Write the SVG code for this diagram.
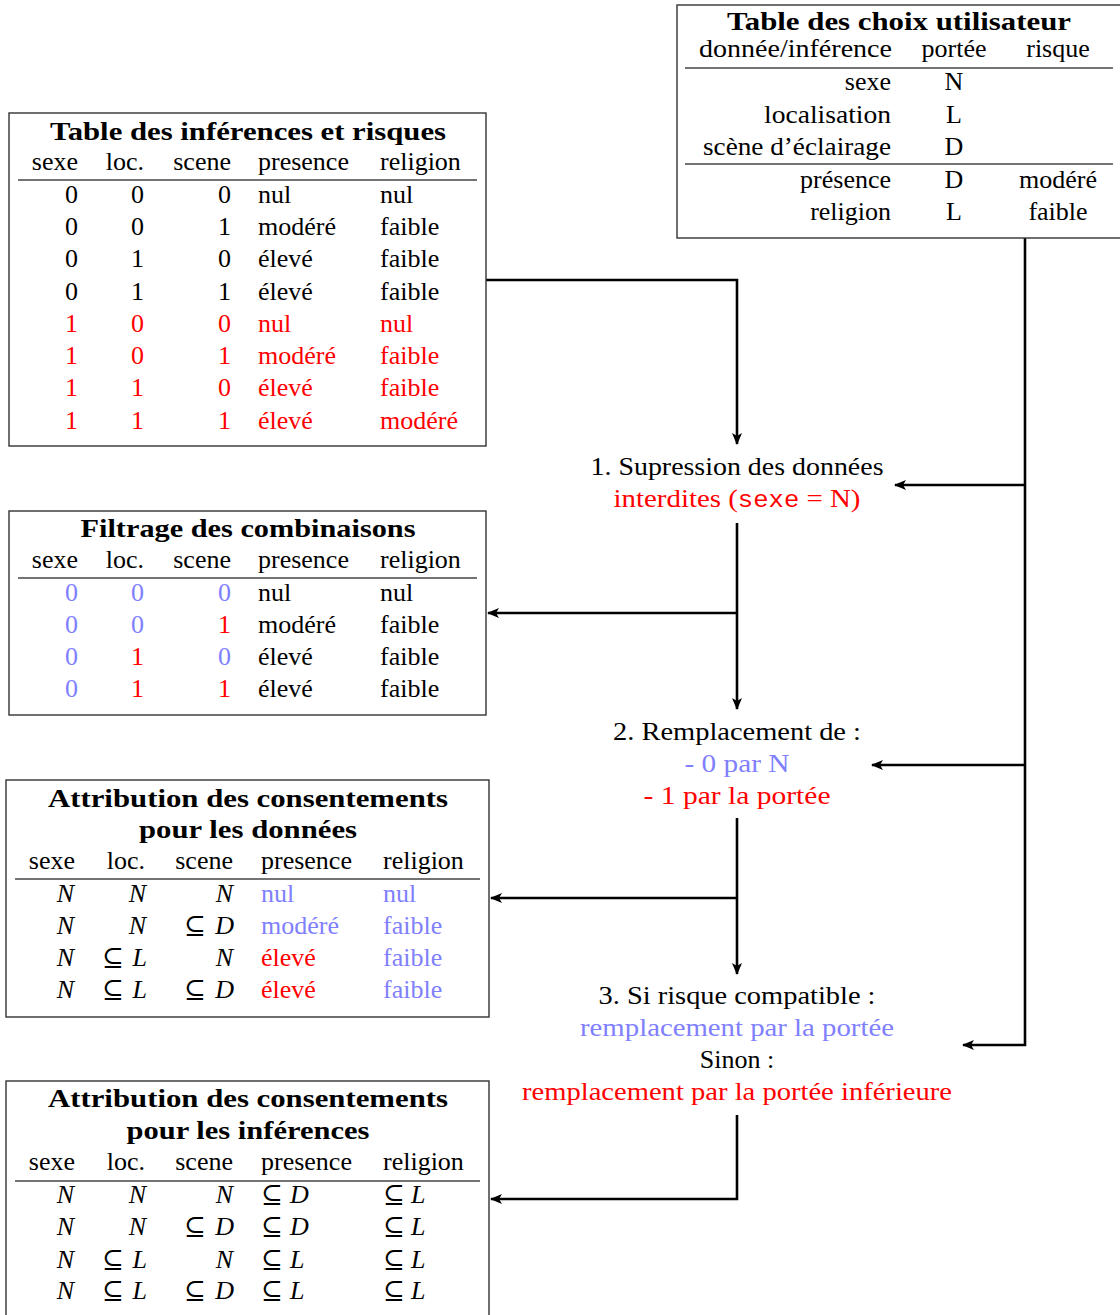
<svg xmlns="http://www.w3.org/2000/svg" width="1120" height="1315" viewBox="0 0 1120 1315">
<defs>
<style>
text{font-family:"Liberation Serif","DejaVu Serif",serif;font-size:26px;fill:#000}
.t{font-weight:bold;text-anchor:middle}
.m{text-anchor:middle}
.e{text-anchor:end}
.i{font-style:italic}
.r{fill:#ff0000}
.b{fill:#8080ff}
.tt{font-family:"Liberation Mono","DejaVu Sans Mono",monospace;font-size:23px}
.box{fill:#fff;stroke:#333;stroke-width:1.4}
.rule{stroke:#444;stroke-width:1.6}
.c{fill:none;stroke:#000;stroke-width:2.6}
</style>
<marker id="ah" viewBox="0 0 12 10" refX="11" refY="5" markerWidth="12" markerHeight="10" markerUnits="userSpaceOnUse" orient="auto">
<path d="M0,0 L12,5 L0,10 L3,5 Z" fill="#000"/>
</marker>
</defs>
<rect width="1120" height="1315" fill="#fff"/>

<g id="connectors">
<path class="c" d="M486,280 H737 V444" marker-end="url(#ah)"/>
<path class="c" d="M737,523 V709" marker-end="url(#ah)"/>
<path class="c" d="M737,613 H488" marker-end="url(#ah)"/>
<path class="c" d="M737,818 V974" marker-end="url(#ah)"/>
<path class="c" d="M737,898 H491" marker-end="url(#ah)"/>
<path class="c" d="M737,1115 V1199 H491" marker-end="url(#ah)"/>
<path class="c" d="M1025,238 V1045 H963" marker-end="url(#ah)"/>
<path class="c" d="M1025,485 H895" marker-end="url(#ah)"/>
<path class="c" d="M1025,765 H872" marker-end="url(#ah)"/>
</g>

<g id="choix">
<rect class="box" x="677" y="5" width="445" height="233"/>
<text class="t" x="899" y="30" font-size="25" textLength="344" lengthAdjust="spacingAndGlyphs">Table des choix utilisateur</text>
<text class="e" x="892" y="57" textLength="193" lengthAdjust="spacingAndGlyphs">donnée/inférence</text>
<text class="m" x="954" y="57">portée</text>
<text class="m" x="1058" y="57">risque</text>
<line class="rule" x1="685" y1="68" x2="1113" y2="68"/>
<text class="e" x="891" y="90">sexe</text><text class="m" x="954" y="90">N</text>
<text class="e" x="891" y="123" textLength="127" lengthAdjust="spacingAndGlyphs">localisation</text><text class="m" x="954" y="123">L</text>
<text class="e" x="891" y="155" textLength="188" lengthAdjust="spacingAndGlyphs">scène d’éclairage</text><text class="m" x="954" y="155">D</text>
<line class="rule" x1="685" y1="164" x2="1113" y2="164"/>
<text class="e" x="891" y="188">présence</text><text class="m" x="954" y="188">D</text><text class="m" x="1058" y="188">modéré</text>
<text class="e" x="891" y="220">religion</text><text class="m" x="954" y="220">L</text><text class="m" x="1058" y="220">faible</text>
</g>

<g id="inferences">
<rect class="box" x="9" y="113" width="477" height="333"/>
<text class="t" x="248" y="140" textLength="396" lengthAdjust="spacingAndGlyphs">Table des inférences et risques</text>
<text class="e" x="78" y="170">sexe</text><text class="e" x="144" y="170">loc.</text><text class="e" x="231" y="170">scene</text><text x="258" y="170">presence</text><text x="380" y="170">religion</text>
<line class="rule" x1="18" y1="180" x2="477" y2="180"/>
<text class="e" x="78" y="203">0</text><text class="e" x="144" y="203">0</text><text class="e" x="231" y="203">0</text><text x="258" y="203">nul</text><text x="380" y="203">nul</text>
<text class="e" x="78" y="235">0</text><text class="e" x="144" y="235">0</text><text class="e" x="231" y="235">1</text><text x="258" y="235">modéré</text><text x="380" y="235">faible</text>
<text class="e" x="78" y="267">0</text><text class="e" x="144" y="267">1</text><text class="e" x="231" y="267">0</text><text x="258" y="267">élevé</text><text x="380" y="267">faible</text>
<text class="e" x="78" y="300">0</text><text class="e" x="144" y="300">1</text><text class="e" x="231" y="300">1</text><text x="258" y="300">élevé</text><text x="380" y="300">faible</text>
<text class="e r" x="78" y="332">1</text><text class="e r" x="144" y="332">0</text><text class="e r" x="231" y="332">0</text><text class="r" x="258" y="332">nul</text><text class="r" x="380" y="332">nul</text>
<text class="e r" x="78" y="364">1</text><text class="e r" x="144" y="364">0</text><text class="e r" x="231" y="364">1</text><text class="r" x="258" y="364">modéré</text><text class="r" x="380" y="364">faible</text>
<text class="e r" x="78" y="396">1</text><text class="e r" x="144" y="396">1</text><text class="e r" x="231" y="396">0</text><text class="r" x="258" y="396">élevé</text><text class="r" x="380" y="396">faible</text>
<text class="e r" x="78" y="429">1</text><text class="e r" x="144" y="429">1</text><text class="e r" x="231" y="429">1</text><text class="r" x="258" y="429">élevé</text><text class="r" x="380" y="429">modéré</text>
</g>

<g id="filtrage">
<rect class="box" x="9" y="511" width="477" height="204"/>
<text class="t" x="248" y="537" textLength="335" lengthAdjust="spacingAndGlyphs">Filtrage des combinaisons</text>
<text class="e" x="78" y="568">sexe</text><text class="e" x="144" y="568">loc.</text><text class="e" x="231" y="568">scene</text><text x="258" y="568">presence</text><text x="380" y="568">religion</text>
<line class="rule" x1="18" y1="578" x2="477" y2="578"/>
<text class="e b" x="78" y="601">0</text><text class="e b" x="144" y="601">0</text><text class="e b" x="231" y="601">0</text><text x="258" y="601">nul</text><text x="380" y="601">nul</text>
<text class="e b" x="78" y="633">0</text><text class="e b" x="144" y="633">0</text><text class="e r" x="231" y="633">1</text><text x="258" y="633">modéré</text><text x="380" y="633">faible</text>
<text class="e b" x="78" y="665">0</text><text class="e r" x="144" y="665">1</text><text class="e b" x="231" y="665">0</text><text x="258" y="665">élevé</text><text x="380" y="665">faible</text>
<text class="e b" x="78" y="697">0</text><text class="e r" x="144" y="697">1</text><text class="e r" x="231" y="697">1</text><text x="258" y="697">élevé</text><text x="380" y="697">faible</text>
</g>

<g id="consent-donnees">
<rect class="box" x="6" y="780" width="483" height="237"/>
<text class="t" x="248" y="807" textLength="400" lengthAdjust="spacingAndGlyphs">Attribution des consentements</text>
<text class="t" x="248" y="838" textLength="218" lengthAdjust="spacingAndGlyphs">pour les données</text>
<text class="e" x="75" y="869">sexe</text><text class="e" x="145" y="869">loc.</text><text class="e" x="233" y="869">scene</text><text x="261" y="869">presence</text><text x="383" y="869">religion</text>
<line class="rule" x1="15" y1="879" x2="480" y2="879"/>
<text class="e i" x="74" y="902">N</text><text class="e i" x="146" y="902">N</text><text class="e i" x="233" y="902">N</text><text class="b" x="261" y="902">nul</text><text class="b" x="383" y="902">nul</text>
<text class="e i" x="74" y="934">N</text><text class="e i" x="146" y="934">N</text><text x="184" y="934">⊆</text><text class="e i" x="234" y="934">D</text><text class="b" x="261" y="934">modéré</text><text class="b" x="383" y="934">faible</text>
<text class="e i" x="74" y="966">N</text><text x="102" y="966">⊆</text><text class="e i" x="147" y="966">L</text><text class="e i" x="233" y="966">N</text><text class="r" x="261" y="966">élevé</text><text class="b" x="383" y="966">faible</text>
<text class="e i" x="74" y="998">N</text><text x="102" y="998">⊆</text><text class="e i" x="147" y="998">L</text><text x="184" y="998">⊆</text><text class="e i" x="234" y="998">D</text><text class="r" x="261" y="998">élevé</text><text class="b" x="383" y="998">faible</text>
</g>

<g id="consent-inferences">
<rect class="box" x="6" y="1081" width="483" height="240"/>
<text class="t" x="248" y="1107" textLength="400" lengthAdjust="spacingAndGlyphs">Attribution des consentements</text>
<text class="t" x="248" y="1139" textLength="243" lengthAdjust="spacingAndGlyphs">pour les inférences</text>
<text class="e" x="75" y="1170">sexe</text><text class="e" x="145" y="1170">loc.</text><text class="e" x="233" y="1170">scene</text><text x="261" y="1170">presence</text><text x="383" y="1170">religion</text>
<line class="rule" x1="15" y1="1181" x2="480" y2="1181"/>
<text class="e i" x="74" y="1203">N</text><text class="e i" x="146" y="1203">N</text><text class="e i" x="233" y="1203">N</text><text x="261" y="1203">⊆</text><text class="i" x="290" y="1203">D</text><text x="383" y="1203">⊆</text><text class="i" x="411" y="1203">L</text>
<text class="e i" x="74" y="1235">N</text><text class="e i" x="146" y="1235">N</text><text x="184" y="1235">⊆</text><text class="e i" x="234" y="1235">D</text><text x="261" y="1235">⊆</text><text class="i" x="290" y="1235">D</text><text x="383" y="1235">⊆</text><text class="i" x="411" y="1235">L</text>
<text class="e i" x="74" y="1268">N</text><text x="102" y="1268">⊆</text><text class="e i" x="147" y="1268">L</text><text class="e i" x="233" y="1268">N</text><text x="261" y="1268">⊆</text><text class="i" x="290" y="1268">L</text><text x="383" y="1268">⊆</text><text class="i" x="411" y="1268">L</text>
<text class="e i" x="74" y="1299">N</text><text x="102" y="1299">⊆</text><text class="e i" x="147" y="1299">L</text><text x="184" y="1299">⊆</text><text class="e i" x="234" y="1299">D</text><text x="261" y="1299">⊆</text><text class="i" x="290" y="1299">L</text><text x="383" y="1299">⊆</text><text class="i" x="411" y="1299">L</text>
</g>

<g id="step1">
<text class="m" x="737" y="475" textLength="293" lengthAdjust="spacingAndGlyphs">1. Supression des données</text>
<text class="m r" x="737" y="507" textLength="247" lengthAdjust="spacingAndGlyphs">interdites (<tspan class="tt r">sexe</tspan> = N)</text>
</g>

<g id="step2">
<text class="m" x="737" y="740" textLength="248" lengthAdjust="spacingAndGlyphs">2. Remplacement de :</text>
<text class="m b" x="737" y="772" textLength="105" lengthAdjust="spacingAndGlyphs">- 0 par N</text>
<text class="m r" x="737" y="804" textLength="187" lengthAdjust="spacingAndGlyphs">- 1 par la portée</text>
</g>

<g id="step3">
<text class="m" x="737" y="1004" textLength="277" lengthAdjust="spacingAndGlyphs">3. Si risque compatible :</text>
<text class="m b" x="737" y="1036" textLength="314" lengthAdjust="spacingAndGlyphs">remplacement par la portée</text>
<text class="m" x="737" y="1068">Sinon :</text>
<text class="m r" x="737" y="1100" textLength="430" lengthAdjust="spacingAndGlyphs">remplacement par la portée inférieure</text>
</g>
</svg>
